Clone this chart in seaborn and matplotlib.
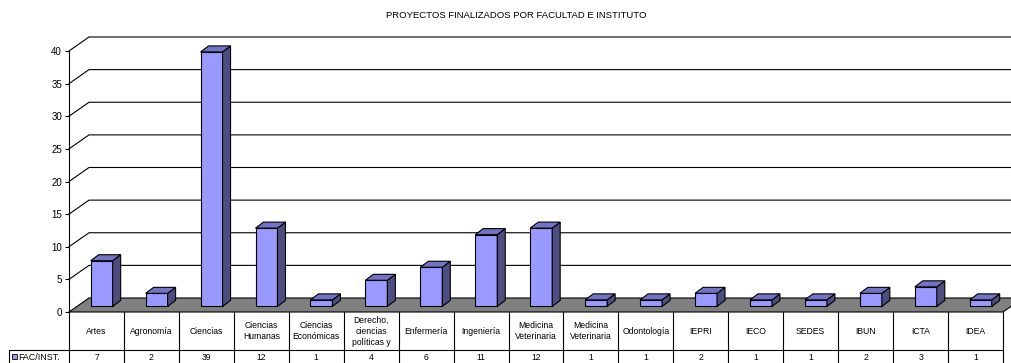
import numpy as np
import pandas as pd
import matplotlib
matplotlib.use("Agg")
import matplotlib.pyplot as plt
import seaborn as sns
from matplotlib.patches import Polygon, Rectangle
from matplotlib.transforms import blended_transform_factory

# ---- data ----
categories = ["Artes", "Agronomía", "Ciencias", "Ciencias\nHumanas", "Ciencias\nEconómicas",
              "Derecho,\nciencias\npolíticas y", "Enfermería", "Ingeniería",
              "Medicina\nVeterinaria", "Medicina\nVeterinaria", "Odontología",
              "IEPRI", "IECO", "SEDES", "IBUN", "ICTA", "IDEA"]
values = [7, 2, 39, 12, 1, 4, 6, 11, 12, 1, 1, 2, 1, 1, 2, 3, 1]
series_name = "FAC/INST."
title = "PROYECTOS FINALIZADOS POR FACULTAD E INSTITUTO"
y_ticks = [0, 5, 10, 15, 20, 25, 30, 35, 40]

# ---- style ----
sns.set_theme(style="white")
plt.rcParams["font.family"] = ["Liberation Sans", "DejaVu Sans"]

FRONT = "#9999FF"
SIDE = "#4D4D80"
TOP = "#7373C6"
FLOOR = "#808080"

W, H = 1012, 363
fig = plt.figure(figsize=(W / 100, H / 100), dpi=100)
left_px, right_px, base_px, top_px = 69, 1003, 312, 51
ax = fig.add_axes([left_px / W, 1 - base_px / H,
                   (right_px - left_px) / W, (base_px - top_px) / H])

n = len(values)
df = pd.DataFrame({"pos": np.arange(n), "value": values})
sns.barplot(data=df, x="pos", y="value", color=FRONT, saturation=1, width=0.4,
            edgecolor="black", linewidth=0.8, ax=ax, zorder=3)

ax.set_xlim(-0.5, n - 0.5)
ax.set_ylim(0, 40)

# pixel -> data unit helpers for the pseudo-3D depth offsets
px_x = (right_px - left_px) / n
px_y = (base_px - top_px) / 40.0
def dx(p):
    return p / px_x
def dy(p):
    return p / px_y

WALL = (20, 14)        # depth of the floor / back wall
BAR_SHIFT = (5.2, 5.6) # bar front face sits partway into the floor
BAR_DEPTH = (8, 6)     # thickness of each bar

# back-wall gridlines with the diagonal on the side wall
x_far = n - 0.5 + dx(40)
for t in y_ticks[1:]:
    ax.plot([-0.5, -0.5 + dx(WALL[0]), x_far], [t, t + dy(WALL[1]), t + dy(WALL[1])],
            color="black", lw=0.8, clip_on=False, zorder=0)

# floor
floor = Polygon([(-0.5, 0), (n - 0.5, 0),
                 (n - 0.5 + dx(WALL[0]), dy(WALL[1])), (-0.5 + dx(WALL[0]), dy(WALL[1]))],
                closed=True, facecolor=FLOOR, edgecolor="black", lw=0.8,
                clip_on=False, zorder=1)
ax.add_patch(floor)

# bars: shift front faces back, then add side and top faces
for p in list(ax.patches):
    if p is floor:
        continue
    x0 = p.get_x() + dx(BAR_SHIFT[0])
    y0 = dy(BAR_SHIFT[1])
    w, h = p.get_width(), p.get_height()
    p.set_x(x0)
    p.set_y(y0)
    p.set_clip_on(False)
    ox, oy = dx(BAR_DEPTH[0]), dy(BAR_DEPTH[1])
    side = Polygon([(x0 + w, y0), (x0 + w + ox, y0 + oy), (x0 + w + ox, y0 + h + oy), (x0 + w, y0 + h)],
                   closed=True, facecolor=SIDE, edgecolor="black", lw=0.8, clip_on=False, zorder=3)
    top = Polygon([(x0, y0 + h), (x0 + w, y0 + h), (x0 + w + ox, y0 + h + oy), (x0 + ox, y0 + h + oy)],
                  closed=True, facecolor=TOP, edgecolor="black", lw=0.8, clip_on=False, zorder=3)
    ax.add_patch(side)
    ax.add_patch(top)

# axes cosmetics
for s in ["top", "right", "bottom"]:
    ax.spines[s].set_visible(False)
ax.spines["left"].set_color("black")
ax.spines["left"].set_linewidth(0.8)
ax.set_yticks(y_ticks)
ax.tick_params(axis="y", direction="out", length=3, width=0.8, labelsize=7,
               pad=2, colors="black", left=True)
ax.set_xticks([])
ax.set_xlabel("")
ax.set_ylabel("")
ax.patch.set_alpha(0)

# data table under the plot
def fy(p):
    return 1 - p / H
trans = blended_transform_factory(ax.transData, fig.transFigure)
for k in range(n + 1):
    ax.plot([k - 0.5, k - 0.5], [fy(base_px), 0], color="black", lw=0.8,
            transform=trans, clip_on=False)
x_cell = -0.5 - dx(left_px - 9)
ax.plot([x_cell, n - 0.5], [fy(350), fy(350)], color="black", lw=0.8,
        transform=trans, clip_on=False)
ax.plot([x_cell, x_cell], [fy(350), 0], color="black", lw=0.8,
        transform=trans, clip_on=False)

for k, (c, v) in enumerate(zip(categories, values)):
    ax.text(k, fy(331), c, transform=trans, ha="center", va="center",
            fontsize=6.2, linespacing=1.3, color="black")
    ax.text(k, fy(357), str(v), transform=trans, ha="center", va="center",
            fontsize=6.2, color="black")

fig.patches.append(Rectangle((12 / W, fy(358.5)), 4.5 / W, 4.5 / H, transform=fig.transFigure,
                             facecolor=FRONT, edgecolor="black", lw=0.6))
fig.text(18 / W, fy(357), series_name, ha="left", va="center", fontsize=6.4, color="black")

fig.text(516 / W, fy(15), title, ha="center", va="center", fontsize=6.8, color="black")

fig.savefig("out.png", dpi=100)
